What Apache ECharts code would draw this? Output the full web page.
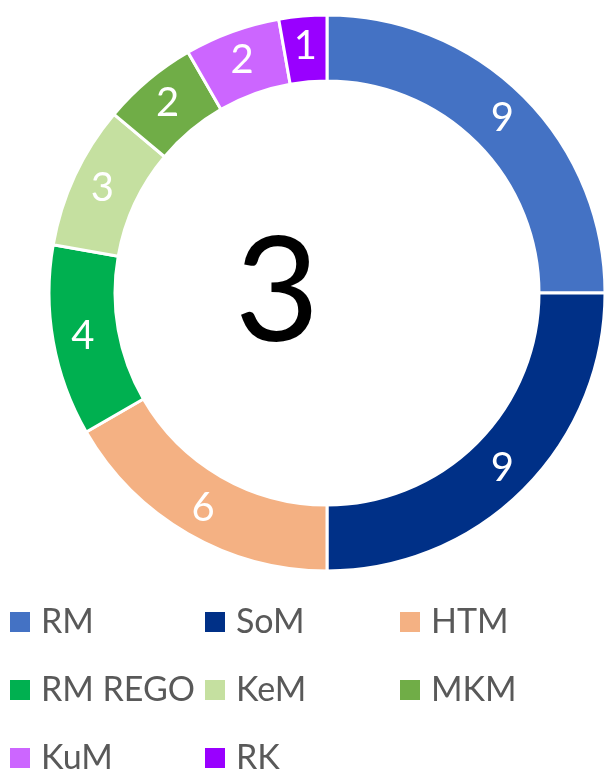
<!DOCTYPE html>
<html><head><meta charset="utf-8">
<script src="https://cdn.jsdelivr.net/npm/echarts@6/dist/echarts.min.js"></script>
<style>html,body{margin:0;padding:0;background:#fff}#c{width:604px;height:774px}</style>
</head><body><div id="c"></div>
<script>
const categories = ['RM','SoM','HTM','RM REGO','KeM','MKM','KuM','RK'];
const values = [9,9,6,4,3,2,2,1];
const colors = ['#4472C4','#003087','#F4B183','#00B050','#C5E0A0','#70AD47','#CC66FF','#9900FF'];
const centerText = '3';

const legendPos = [[8,602],[203,602],[398,602],[8,670],[203,670],[398,670],[8,738],[203,738]];
const legends = categories.map((c,i)=>({
  data:[c], left:legendPos[i][0], top:legendPos[i][1], itemWidth:22, itemHeight:22, icon:'rect',
  selectedMode:false, padding:0, itemGap:0,
  textStyle:{fontFamily:'Lato', fontSize:34, lineHeight:40, color:'#595959', padding:[0,0,0,5]}
}));

const chart = echarts.init(document.getElementById('c'), null, {renderer:'canvas'});
chart.setOption({
  animation:false,
  color: colors,
  legend: legends,
  series:[{
    type:'pie', center:[327,293], radius:[212,278], startAngle:90, clockwise:true,
    avoidLabelOverlap:false, silent:true,
    itemStyle:{borderColor:'#fff', borderWidth:3},
    label:{show:true, position:'inside', formatter:'{c}', color:'#fff', fontFamily:'Lato', fontSize:40},
    labelLine:{show:false},
    data: categories.map((c,i)=>({name:c, value:values[i]}))
  },{
    type:'pie', center:[277,294], radius:[0,1], silent:true, itemStyle:{color:'transparent'},
    label:{show:true, position:'center', formatter:centerText, color:'#000', fontFamily:'Lato', fontSize:146},
    labelLine:{show:false}, data:[{name:'center', value:1}], legendHoverLink:false
  }]
});
</script></body></html>
